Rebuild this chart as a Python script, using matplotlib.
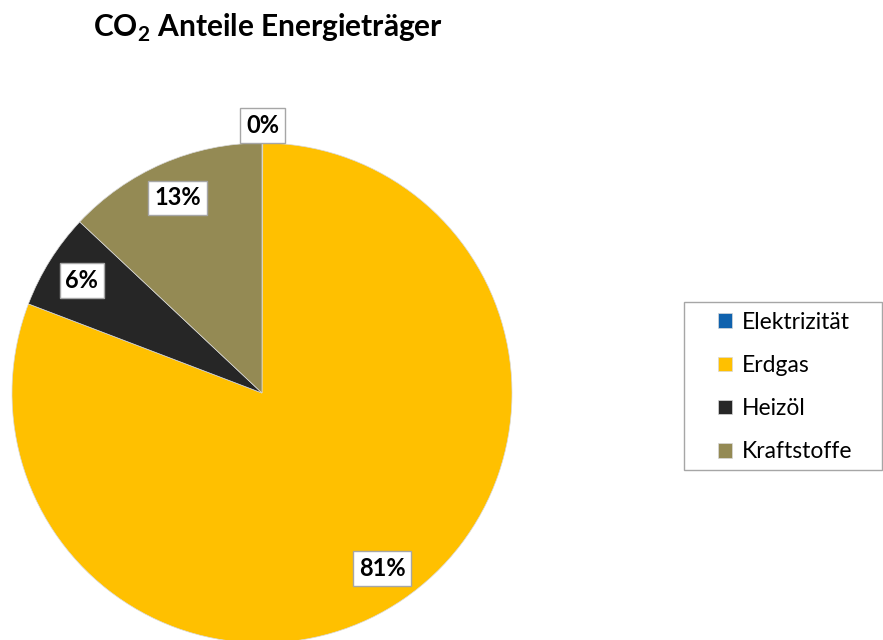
import numpy as np
import matplotlib.pyplot as plt
from matplotlib.patches import Rectangle

plt.rcParams['font.family'] = ['Lato', 'DejaVu Sans']
plt.rcParams['mathtext.fontset'] = 'custom'
plt.rcParams['mathtext.bf'] = 'Lato:bold'
plt.rcParams['mathtext.rm'] = 'Lato'

# data
labels = ['Elektrizität', 'Erdgas', 'Heizöl', 'Kraftstoffe']
values = [0.05, 80.75, 6.2, 13.0]
colors = ['#0F62AE', '#FFC000', '#262626', '#948A54']
label_dist = [1.07, 0.85, 0.85, 0.85]

fig = plt.figure(figsize=(8.83, 6.4), dpi=100)
# pie centre at (262, 393) px, radius 250 px
ax = fig.add_axes([12 / 883, (640 - 393 - 250) / 640, 500 / 883, 500 / 640])
wedges, _ = ax.pie(values, colors=colors, startangle=90, counterclock=False,
                   radius=1, wedgeprops=dict(edgecolor='#d9d9d9', linewidth=0.5))
ax.set_xlim(-1, 1)
ax.set_ylim(-1, 1)
ax.set_aspect('equal')
ax.axis('off')

total = sum(values)
for w, v, d in zip(wedges, values, label_dist):
    ang = np.deg2rad((w.theta1 + w.theta2) / 2)
    ax.text(d * np.cos(ang), d * np.sin(ang), f'{round(v / total * 100):d}%',
            ha='center', va='center', fontsize=17, fontweight='bold',
            color='black', clip_on=False,
            bbox=dict(boxstyle='square,pad=0.25', fc='white', ec='#a6a6a6', lw=1))

fig.text(268 / 883, 1 - 28 / 640, r'CO$_\mathbf{2}$ Anteile Energieträger',
         ha='center', va='center', fontsize=21.5, fontweight='bold')

# legend frame drawn separately (asymmetric padding like the original)
fig.patches.append(Rectangle((684 / 883, 1 - 470 / 640), 198 / 883, 168 / 640,
                             transform=fig.transFigure, fill=False,
                             ec='#a6a6a6', lw=1))
leg = fig.legend(wedges, labels, loc='center left',
                 bbox_to_anchor=(718 / 883, 1 - 387 / 640),
                 fontsize=16.5, frameon=False,
                 handlelength=0.6, handleheight=0.6,
                 handletextpad=0.45, labelspacing=0.97, borderpad=0,
                 borderaxespad=0)

fig.savefig('out.png', dpi=100)
